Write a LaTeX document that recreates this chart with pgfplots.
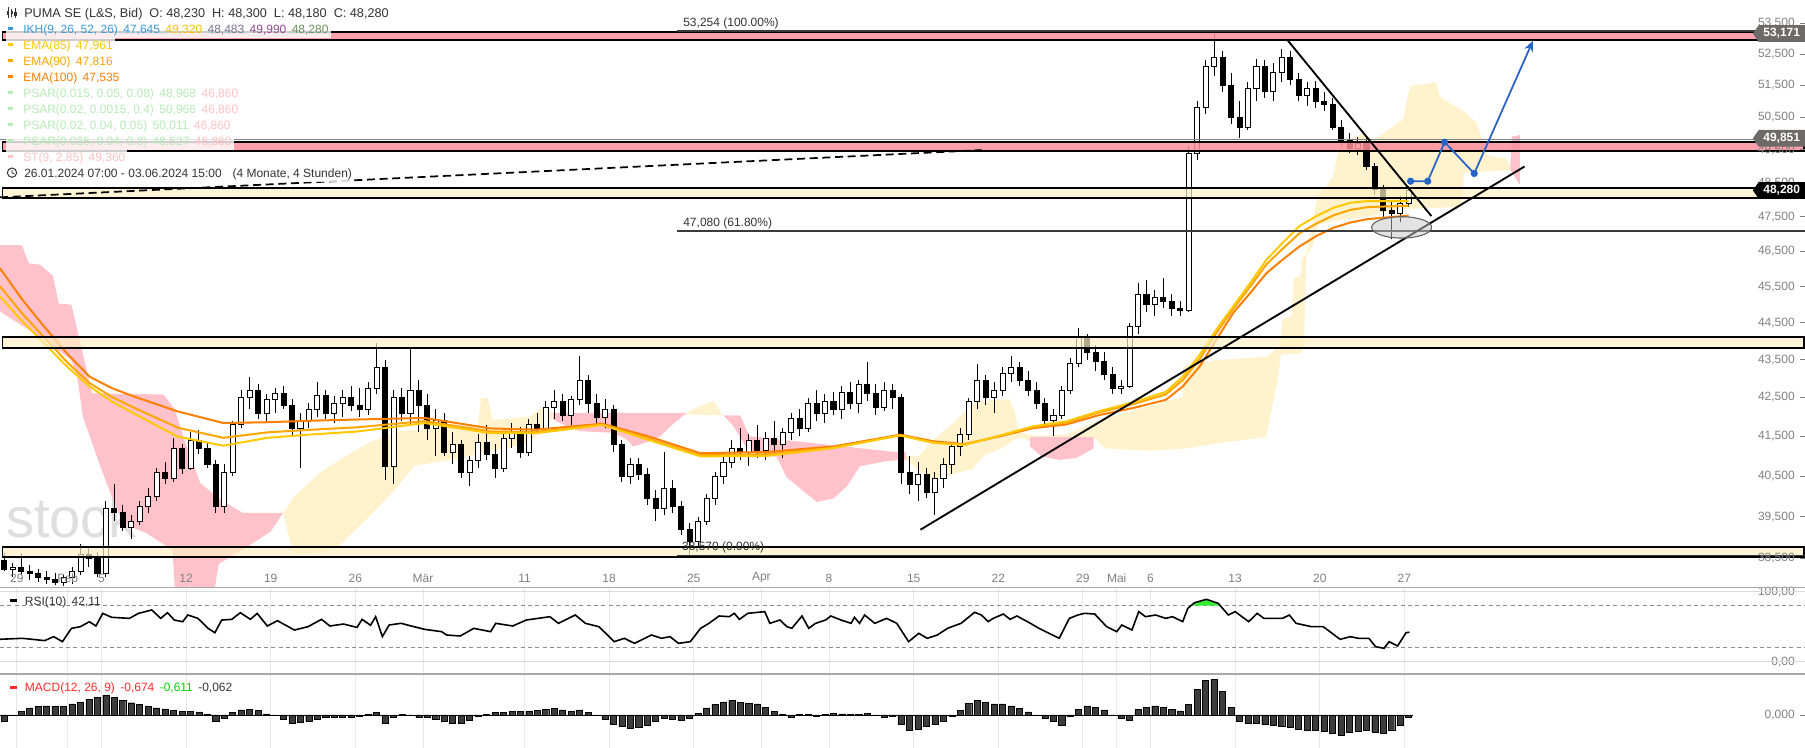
\documentclass[border=0pt]{standalone}
\usepackage{fontspec}
\setmainfont{Liberation Sans}
\usepackage{pgfplots}
\usepackage{pgfplotstable}
\pgfplotsset{compat=1.18}
\usetikzlibrary{shapes.symbols,shapes.geometric,arrows.meta}

\definecolor{tickgray}{HTML}{808080}
\definecolor{gridgray}{HTML}{E8E8E8}
\definecolor{sepgray}{HTML}{A8A8A8}
\definecolor{cloudred}{HTML}{FFC2CB}
\definecolor{cloudyel}{HTML}{FFF2CC}
\definecolor{bandred}{HTML}{FF8F9B}
\definecolor{bandyel}{HTML}{FFF0C4}
\definecolor{emaA}{HTML}{FFC800}
\definecolor{emaB}{HTML}{FFA500}
\definecolor{emaC}{HTML}{FF7F00}
\definecolor{fc}{HTML}{2563C6}
\definecolor{ikh}{HTML}{3A9AD9}
\definecolor{ikhgold}{HTML}{F5C400}
\definecolor{ikhgray}{HTML}{7D7390}
\definecolor{ikhpurple}{HTML}{8E4A8E}
\definecolor{ikhgreen}{HTML}{6A8F5A}
\definecolor{psarg}{HTML}{B6EBB6}
\definecolor{psarr}{HTML}{FFC2C2}
\definecolor{macdbar}{HTML}{3C3C3C}
\definecolor{rsigreen}{HTML}{33EE33}
\definecolor{boxgray}{HTML}{6E6A6A}
\definecolor{txt}{HTML}{333333}
\definecolor{fibgray}{HTML}{3A3A3A}
\definecolor{macdred}{HTML}{FF2A2A}
\definecolor{macdgreen}{HTML}{00D000}

\newcommand\legdash[1]{\textcolor{#1}{\rule[0.24em]{3.75pt}{2.3pt}}\hspace{7.5pt}}
\newcommand\sep{\hspace{0.45em}}

\pgfplotstableread{
x o h l c
0.25 38.45 38.62 38.20 38.25
0.75 38.25 38.40 38.05 38.30
1.25 38.30 38.62 38.10 38.20
1.75 38.20 38.35 38.00 38.15
2.25 38.15 38.25 37.95 38.05
2.75 38.05 38.20 37.90 38.00
3.25 38.00 38.15 37.88 37.95
3.75 37.95 38.10 37.85 38.05
4.25 38.05 38.30 37.90 38.20
4.75 38.20 38.85 38.10 38.60
5.25 38.60 38.80 38.30 38.50
5.75 38.50 38.65 38.05 38.15
6.25 38.15 39.90 38.05 39.70
6.75 39.70 40.30 39.40 39.60
7.25 39.60 39.80 39.15 39.25
7.75 39.25 39.55 38.95 39.40
8.25 39.40 39.90 39.30 39.75
8.75 39.75 40.20 39.60 40.00
9.25 40.00 40.70 39.90 40.60
9.75 40.60 40.85 40.30 40.45
10.25 40.45 41.45 40.35 41.20
10.75 41.20 41.30 40.55 40.70
11.25 40.70 41.60 40.65 41.40
11.75 41.40 41.65 41.05 41.20
12.25 41.20 41.35 40.70 40.80
12.75 40.80 40.90 39.60 39.75
13.25 39.75 40.80 39.60 40.60
13.75 40.60 41.90 40.50 41.80
14.25 41.80 42.70 41.70 42.50
14.75 42.50 43.05 42.20 42.70
15.25 42.70 42.85 41.95 42.10
15.75 42.10 42.60 41.90 42.45
16.25 42.45 42.75 42.10 42.60
16.75 42.60 42.80 42.20 42.30
17.25 42.30 42.45 41.50 41.70
17.75 41.70 42.10 40.70 41.90
18.25 41.90 42.35 41.70 42.20
18.75 42.20 42.90 42.00 42.55
19.25 42.55 42.70 41.95 42.10
19.75 42.10 42.55 41.85 42.35
20.25 42.35 42.70 42.00 42.50
20.75 42.50 42.80 42.15 42.30
21.25 42.30 42.75 42.00 42.20
21.75 42.20 42.90 42.05 42.75
22.25 42.75 43.95 42.60 43.30
22.75 43.30 43.50 40.40 40.75
23.25 40.75 42.70 40.30 42.50
23.75 42.50 42.75 41.90 42.10
24.25 42.10 43.80 41.80 42.70
24.75 42.70 42.95 41.60 42.30
25.25 42.30 42.60 41.40 41.70
25.75 41.70 42.20 41.00 41.90
26.25 41.90 42.10 41.00 41.10
26.75 41.10 41.60 40.80 41.30
27.25 41.30 41.40 40.45 40.60
27.75 40.60 41.00 40.25 40.90
28.25 40.90 41.55 40.70 41.35
28.75 41.35 41.80 40.90 41.05
29.25 41.05 41.30 40.45 40.70
29.75 40.70 41.60 40.60 41.45
30.25 41.45 41.85 41.20 41.60
30.75 41.60 41.75 40.95 41.10
31.25 41.10 41.95 41.00 41.80
31.75 41.80 42.10 41.55 41.70
32.25 41.70 42.40 41.60 42.25
32.75 42.25 42.70 41.95 42.40
33.25 42.40 42.60 41.90 42.05
33.75 42.05 42.55 41.80 42.45
34.25 42.45 43.60 42.30 42.95
34.75 42.95 43.10 42.10 42.35
35.25 42.35 42.60 41.85 42.00
35.75 42.00 42.45 41.70 42.20
36.25 42.20 42.30 41.10 41.30
36.75 41.30 41.40 40.35 40.50
37.25 40.50 40.95 40.30 40.80
37.75 40.80 40.95 40.40 40.55
38.25 40.55 40.70 39.80 39.95
38.75 39.95 40.15 39.40 39.70
39.25 39.70 41.10 39.55 40.20
39.75 40.20 40.40 39.60 39.75
40.25 39.75 39.90 39.05 39.20
40.75 39.20 39.35 38.57 38.90
41.25 38.90 39.50 38.75 39.40
41.75 39.40 40.05 39.30 39.95
42.25 39.95 40.60 39.80 40.50
42.75 40.50 41.00 40.30 40.85
43.25 40.85 41.40 40.70 41.20
43.75 41.20 41.70 40.90 41.10
44.25 41.10 41.55 40.75 41.40
44.75 41.40 41.80 40.95 41.15
45.25 41.15 41.60 40.90 41.45
45.75 41.45 41.90 41.05 41.30
46.25 41.30 41.70 40.95 41.60
46.75 41.60 42.10 41.40 41.95
47.25 41.95 42.20 41.50 41.70
47.75 41.70 42.50 41.60 42.35
48.25 42.35 42.70 41.90 42.10
48.75 42.10 42.60 41.85 42.40
49.25 42.40 42.65 42.05 42.20
49.75 42.20 42.80 41.95 42.65
50.25 42.65 42.90 42.20 42.35
50.75 42.35 42.95 42.10 42.85
51.25 42.85 43.45 42.40 42.60
51.75 42.60 42.85 42.05 42.25
52.25 42.25 42.90 42.15 42.70
52.75 42.70 42.85 42.20 42.50
53.25 42.50 42.60 40.30 40.60
53.75 40.60 41.00 40.05 40.30
54.25 40.30 40.85 39.90 40.55
54.75 40.55 40.70 39.95 40.10
55.25 40.10 40.60 39.55 40.45
55.75 40.45 40.95 40.20 40.80
56.25 40.80 41.35 40.55 41.25
56.75 41.25 41.70 41.00 41.55
57.25 41.55 42.50 41.40 42.40
57.75 42.40 43.40 42.20 42.95
58.25 42.95 43.10 42.30 42.50
58.75 42.50 42.90 42.10 42.70
59.25 42.70 43.30 42.55 43.15
59.75 43.15 43.60 42.90 43.30
60.25 43.30 43.45 42.80 42.95
60.75 42.95 43.20 42.55 42.70
61.25 42.70 42.90 42.20 42.35
61.75 42.35 42.50 41.75 41.90
62.25 41.90 42.20 41.50 42.05
62.75 42.05 42.80 41.95 42.70
63.25 42.70 43.55 42.60 43.40
63.75 43.40 44.35 43.30 44.10
64.25 44.10 44.20 43.50 43.70
64.75 43.70 43.90 43.20 43.45
65.25 43.45 43.70 42.95 43.10
65.75 43.10 43.30 42.60 42.75
66.25 42.75 42.95 42.60 42.80
66.75 42.80 44.50 42.75 44.40
67.25 44.40 45.60 44.20 45.30
67.75 45.30 45.70 44.80 45.00
68.25 45.00 45.40 44.70 45.20
68.75 45.20 45.75 44.90 45.10
69.25 45.10 45.30 44.70 44.90
69.75 44.90 45.10 44.70 44.85
70.25 44.85 49.60 44.80 49.40
70.75 49.40 51.00 49.20 50.80
71.25 50.80 52.30 50.60 52.10
71.75 52.10 53.25 51.80 52.40
72.25 52.40 52.60 51.30 51.50
72.75 51.50 51.90 50.30 50.50
73.25 50.50 51.00 49.86 50.20
73.75 50.20 51.60 50.10 51.40
74.25 51.40 52.35 51.00 52.10
74.75 52.10 52.30 51.10 51.30
75.25 51.30 52.20 51.00 51.90
75.75 51.90 52.65 51.60 52.40
76.25 52.40 52.60 51.50 51.70
76.75 51.70 51.90 51.00 51.20
77.25 51.20 51.60 50.85 51.40
77.75 51.40 51.65 50.80 51.00
78.25 51.00 51.30 50.70 50.90
78.75 50.90 51.10 50.10 50.20
79.25 50.20 50.40 49.60 49.80
79.75 49.80 50.00 49.40 49.55
80.25 49.55 49.90 49.35 49.70
80.75 49.70 49.85 48.90 49.00
81.25 49.00 49.10 48.15 48.30
81.75 48.30 48.45 47.50 47.70
82.25 47.70 48.00 46.85 47.60
82.75 47.60 48.10 47.35 47.90
83.25 47.90 48.40 47.80 48.28
}\candles

\pgfplotstableread{
d a b c
0 45.23 45.51 46.02
1.3 44.55 44.76 45.15
2.6 43.95 44.11 44.40
4 43.30 43.42 43.65
5.3 42.79 42.88 43.05
6.6 42.40 42.52 42.75
7.9 42.09 42.24 42.53
10.5 41.49 41.72 42.14
13.2 41.26 41.46 41.84
15.8 41.46 41.60 41.86
18.5 41.55 41.67 41.90
21.1 41.62 41.73 41.93
25.1 41.84 41.89 41.97
29 41.58 41.62 41.70
31.7 41.58 41.61 41.67
35.6 41.79 41.80 41.82
38.3 41.41 41.44 41.50
41.4 40.99 41.02 41.07
45.3 41.00 41.04 41.10
49.25 41.20 41.21 41.24
53.2 41.52 41.53 41.54
55.2 41.33 41.34 41.37
57 41.28 41.29 41.30
59.1 41.52 41.51 41.50
61.1 41.76 41.74 41.71
63 41.88 41.85 41.80
65 42.15 42.12 42.05
67 42.38 42.33 42.23
68.9 42.65 42.58 42.44
69.9 43.05 42.96 42.79
70.9 43.63 43.52 43.32
71.9 44.32 44.23 44.05
72.9 44.96 44.89 44.78
73.9 45.61 45.51 45.33
74.85 46.26 46.13 45.88
75.8 46.74 46.57 46.26
76.8 47.23 47.02 46.64
77.8 47.52 47.30 46.94
78.8 47.76 47.54 47.18
79.8 47.91 47.70 47.33
80.8 47.96 47.78 47.43
81.7 47.96 47.80 47.47
83.25 47.96 47.82 47.53
}\ema

\pgfplotstableread{
d v
0 32
1.32 33.4
2.64 30.1
3.17 35.8
3.69 28.6
4.22 47.6
4.75 50
5.28 57.1
5.67 51
6.07 69
6.6 63.4
7.65 61.9
8.18 69
8.97 73.9
9.5 61.9
9.9 70
10.3 59.5
10.8 57.1
11.1 66.7
11.7 61.9
12.3 47.6
12.7 41.4
13.1 59.5
13.7 60.5
14.2 70
14.8 60.5
15.2 69
15.8 51
16.4 58.6
17.4 45.2
18.2 50
19.0 60.5
19.5 51
20.3 53.8
21.1 49
21.4 60.5
21.9 52
22.2 64.3
22.6 35.8
23.0 52.4
23.7 54.8
24.3 51
25.1 46.2
26.1 42.9
26.4 38.1
27.2 36.7
28.0 47.6
29.0 42.9
29.3 54.8
30.3 51
31.1 59.5
32.5 64.3
33.0 54.8
34.0 66.7
34.6 54.8
35.4 50
36.3 28.6
36.9 33.4
37.5 26.2
38.5 38.1
39.1 33.4
39.6 35.8
40.1 26.2
40.8 28.6
41.4 47.5
41.9 54.8
42.5 65.3
43.1 64.3
43.4 69.1
43.7 60.5
44.2 69.1
45.2 71.5
45.5 54.8
46.1 59.6
46.5 50.1
46.8 47.7
47.4 65.3
47.8 47.7
48.2 54.8
48.8 59.6
49.1 65.3
49.7 59.6
50.3 54.8
50.5 63.4
50.8 54.8
51.1 66.7
51.7 54.8
52.4 61.9
53.0 54.8
53.7 28.6
54.3 40.5
54.8 33.4
55.4 38.1
56.0 47.7
56.8 54.8
57.6 70.5
58.0 66.7
58.4 57.2
58.7 61.9
59.3 68.1
59.7 60.5
60.1 65.3
60.9 54.8
61.4 47.7
62.6 33.4
63.2 61.9
63.7 66.7
64.1 69.1
64.7 68.1
65.4 50.1
66.0 42.9
66.3 52.4
66.9 45.2
67.3 71.5
67.7 64.3
68.3 66.7
68.9 61.9
69.3 64.3
69.9 57.2
70.2 76.2
70.6 84.3
71.3 89.1
72.0 83.4
72.6 66.7
73.0 71.5
73.8 57.2
74.3 69.1
74.7 61.9
75.8 61.9
76.2 66.7
76.6 54.8
77.5 50.1
78.2 50.1
78.6 42.9
79.2 31.9
79.8 35.7
80.3 33.4
80.9 33.4
81.3 21.4
81.8 19.1
82.1 28.6
82.6 22.4
83.1 41.4
83.3 42.1
}\rsi

\pgfplotstableread{
d v
0.25 -0.20
0.75 -0.02
1.25 0.12
1.75 0.24
2.25 0.29
2.75 0.30
3.25 0.29
3.75 0.29
4.25 0.37
4.75 0.44
5.25 0.52
5.75 0.60
6.25 0.66
6.75 0.60
7.25 0.48
7.75 0.41
8.25 0.35
8.75 0.28
9.25 0.24
9.75 0.20
10.25 0.16
10.75 0.13
11.25 0.12
11.75 0.10
12.25 0.03
12.75 -0.22
13.25 -0.10
13.75 0.08
14.25 0.17
14.75 0.19
15.25 0.15
15.75 0.04
16.25 -0.02
16.75 -0.15
17.25 -0.26
17.75 -0.25
18.25 -0.20
18.75 -0.14
19.25 -0.07
19.75 -0.06
20.25 -0.06
20.75 -0.06
21.25 -0.04
21.75 0.03
22.25 0.08
22.75 -0.26
23.25 -0.08
23.75 0.03
24.25 -0.02
24.75 -0.06
25.25 -0.09
25.75 -0.14
26.25 -0.20
26.75 -0.28
27.25 -0.26
27.75 -0.17
28.25 -0.05
28.75 0.03
29.25 0.08
29.75 0.09
30.25 0.11
30.75 0.12
31.25 0.14
31.75 0.16
32.25 0.19
32.75 0.22
33.25 0.17
33.75 0.11
34.25 0.17
34.75 0.08
35.25 -0.02
35.75 -0.15
36.25 -0.30
36.75 -0.38
37.25 -0.44
37.75 -0.40
38.25 -0.34
38.75 -0.22
39.25 -0.12
39.75 -0.14
40.25 -0.17
40.75 -0.10
41.25 0.06
41.75 0.24
42.25 0.36
42.75 0.44
43.25 0.48
43.75 0.42
44.25 0.38
44.75 0.37
45.25 0.26
45.75 0.12
46.25 0.02
46.75 -0.06
47.25 0.01
47.75 0.02
48.25 -0.03
48.75 0.03
49.25 0.06
49.75 0.04
50.25 0.01
50.75 0.03
51.25 0.06
51.75 -0.02
52.25 -0.06
52.75 -0.03
53.25 -0.30
53.75 -0.50
54.25 -0.46
54.75 -0.39
55.25 -0.30
55.75 -0.20
56.25 -0.05
56.75 0.15
57.25 0.40
57.75 0.50
58.25 0.42
58.75 0.37
59.25 0.37
59.75 0.30
60.25 0.22
60.75 0.10
61.25 -0.02
61.75 -0.12
62.25 -0.22
62.75 -0.33
63.25 -0.05
63.75 0.18
64.25 0.30
64.75 0.25
65.25 0.17
65.75 0.00
66.25 -0.12
66.75 -0.19
67.25 0.19
67.75 0.26
68.25 0.30
68.75 0.25
69.25 0.18
69.75 0.14
70.25 0.35
70.75 0.85
71.25 1.15
71.75 1.20
72.25 0.80
72.75 0.25
73.25 -0.20
73.75 -0.27
74.25 -0.29
74.75 -0.32
75.25 -0.34
75.75 -0.37
76.25 -0.42
76.75 -0.47
77.25 -0.50
77.75 -0.52
78.25 -0.55
78.75 -0.60
79.25 -0.67
79.75 -0.58
80.25 -0.55
80.75 -0.52
81.25 -0.56
81.75 -0.61
82.25 -0.50
82.75 -0.35
83.25 -0.06
}\macd

\pgfplotsset{
  chartbase/.style={
    scale only axis, anchor=south west, width=1353.75pt,
    xmin=0, xmax=106.68, enlargelimits=false,
    axis line style={draw=none},
    xtick={1,4,6,11,16,21,25,31,36,41,45,49,54,59,64,66,68,73,78,83},
    xtick style={draw=none},
    ytick pos=right, yticklabel pos=right,
    yticklabel style={anchor=east, inner sep=0pt, xshift=-7.5pt, text=tickgray, font=\fontsize{9}{10}\selectfont},
    ytick style={draw=tickgray, line width=0.6pt},
    major tick length=3.4pt, tick align=inside,
    xminorticks=false, yminorticks=false,
    /pgf/number format/assume math mode=true,
  }
}

\begin{document}
\begin{tikzpicture}
\useasboundingbox (0pt,0pt) rectangle (1353.75pt,561pt);

% ================= MAIN PANEL =================
\begin{axis}[chartbase, at={(0pt,120.75pt)}, height=440.25pt,
  axis on top,
  ymode=log, ymin=37.83, ymax=54.28,
  xticklabels={29,Feb,5,12,19,26,Mär,11,18,25,Apr,8,15,22,29,Mai,6,13,20,27},
  xticklabel style={anchor=south, inner sep=0pt, yshift=3pt, text=tickgray, font=\fontsize{9}{10}\selectfont},
  ytick={38.5,39.5,40.5,41.5,42.5,43.5,44.5,45.5,46.5,47.5,48.5,49.5,50.5,51.5,52.5,53.5},
  yticklabels={{38,500},{39,500},{40,500},{41,500},{42,500},{43,500},{44,500},{45,500},{46,500},{47,500},{48,500},{49,500},{50,500},{51,500},{52,500},{53,500}},
]
% watermark
\node[anchor=base west, text=black!13, font=\fontsize{42}{42}\selectfont, inner sep=0pt] at (axis cs:0.35,38.99) {stock\raisebox{0.9em}{\fontsize{20}{20}\selectfont 3}};

% Ichimoku clouds
\addplot[fill=cloudred, draw=none, forget plot] coordinates {(0,46.68)(1.29,46.68)(1.70,46.16)(2.38,46.12)(3.13,45.80)(3.47,45.03)(4.22,45.00)(5.44,42.61)(9.66,42.58)(10.34,42.19)(10.95,41.33)(11.84,40.32)(12.99,39.93)(14.35,39.59)(16.73,39.59)(15.99,39.14)(14.63,38.78)(12.93,38.37)(12.65,37.7)(10.34,37.7)(10.20,38.70)(8.64,39.11)(7.28,39.33)(6.53,40.07)(5.92,40.75)(5.44,41.33)(4.90,42.01)(4.56,43.06)(4.22,43.49)(2.59,44.05)(0,44.81)} -- cycle;
\addplot[fill=cloudyel, draw=none, forget plot] coordinates {(16.73,39.59)(17.35,39.98)(18.91,40.58)(20.07,40.90)(21.77,41.33)(23.47,41.62)(25.85,41.71)(28.23,41.77)(28.44,42.49)(28.84,42.49)(29.12,41.92)(31.29,42.01)(31.97,42.22)(32.65,42.13)(32.65,41.95)(31.29,41.33)(27.21,40.95)(24.49,40.75)(23.33,40.15)(21.77,39.48)(20.07,38.81)(18.91,38.65)(17.35,38.59)} -- cycle;
\addplot[fill=cloudred, draw=none, forget plot] coordinates {(32.69,42.10)(40.58,42.10)(39.80,41.82)(39.01,41.50)(38.41,41.37)(37.43,41.24)(37.03,41.42)(36.24,41.59)(34.28,41.63)(33.49,41.76)(32.69,41.93)} -- cycle;
\addplot[fill=cloudyel, draw=none, forget plot] coordinates {(40.58,42.10)(41.36,42.28)(42.18,42.41)(42.72,42.04)(40.58,42.06)} -- cycle;
\addplot[fill=cloudred, draw=none, forget plot] coordinates {(42.75,42.04)(43.74,42.04)(44.29,41.50)(53.15,41.09)(53.54,41.09)(53.54,40.91)(52.38,40.87)(50.82,40.74)(50.05,40.24)(49.25,39.95)(48.27,39.86)(46.48,40.47)(45.90,40.98)(44.33,41.07)(43.33,41.77)} -- cycle;
\addplot[fill=cloudyel, draw=none, forget plot] coordinates {(53.54,40.99)(54.35,41.01)(55.17,41.42)(56.33,41.83)(57.14,42.19)(57.69,42.40)(59.66,42.46)(60.0,42.10)(60.2,41.62)(61.09,41.51)(62.99,41.54)(65.03,41.92)(69.93,42.52)(69.93,43.31)(71.84,43.49)(74.83,43.58)(75.65,43.86)(75.78,44.58)(76.33,44.68)(76.46,45.74)(76.87,45.80)(76.94,46.26)(77.21,46.45)(77.82,47.99)(78.78,48.68)(79.18,49.61)(79.59,49.79)(80.61,50.00)(81.16,49.79)(82.93,50.43)(83.33,51.47)(83.74,51.51)(84.90,51.59)(85.10,51.15)(85.71,50.93)(86.46,50.71)(87.28,50.32)(87.69,49.68)(87.89,49.33)(89.05,49.23)(89.25,48.95)(89.25,48.88)(86.53,48.81)(86.39,47.79)(82.65,47.72)(80.95,47.52)(78.91,47.38)(77.89,47.28)(77.55,46.62)(77.21,46.39)(77.07,43.89)(76.87,43.67)(75.71,43.64)(75.51,42.97)(74.83,41.48)(72.11,41.33)(70.07,41.19)(68.03,41.13)(65.31,41.19)(64.63,41.48)(62.99,41.36)(61.09,41.36)(60.2,41.48)(59.18,41.19)(58.16,41.01)(57.48,40.67)(56.33,40.55)(55.17,40.41)(54.42,40.61)(53.54,40.90)} -- cycle;
\addplot[fill=cloudred, draw=none, forget plot] coordinates {(60.88,41.48)(64.63,41.48)(64.63,41.19)(63.61,40.95)(62.59,40.90)(61.56,40.99)(60.88,41.24)} -- cycle;
\addplot[fill=cloudred, draw=none, forget plot] coordinates {(89.35,49.90)(89.83,49.95)(89.83,48.44)(89.25,48.90)} -- cycle;

% candles
\pgfplotstablegetrowsof{\candles}
\pgfmathtruncatemacro\nlast{\pgfplotsretval-1}
\pgfplotsforeachungrouped \i in {0,...,\nlast}{%
  \pgfplotstablegetelem{\i}{x}\of\candles\let\qx\pgfplotsretval
  \pgfplotstablegetelem{\i}{o}\of\candles\let\qo\pgfplotsretval
  \pgfplotstablegetelem{\i}{h}\of\candles\let\qh\pgfplotsretval
  \pgfplotstablegetelem{\i}{l}\of\candles\let\ql\pgfplotsretval
  \pgfplotstablegetelem{\i}{c}\of\candles\let\qc\pgfplotsretval
  \pgfmathsetmacro\xa{\qx-0.15}%
  \pgfmathsetmacro\xb{\qx+0.15}%
  \pgfmathparse{\qc<\qo ? 0 : 1}%
  \ifdim\pgfmathresult pt>0.5pt \def\qfill{white}\else\def\qfill{black}\fi
  \edef\doit{\noexpand\addplot[black, line width=0.55pt, forget plot] coordinates {(\qx,\ql) (\qx,\qh)};
    \noexpand\addplot[draw=black, line width=0.45pt, fill=\qfill, forget plot] coordinates {(\xa,\qo) (\xb,\qo) (\xb,\qc) (\xa,\qc)} -- cycle;}%
  \doit
}

% EMAs
\addplot[emaC, line width=1.5pt, forget plot] table[x=d,y=c]{\ema};
\addplot[emaB, line width=1.5pt, forget plot] table[x=d,y=b]{\ema};
\addplot[emaA, line width=1.5pt, forget plot] table[x=d,y=a]{\ema};

% horizontal zones
\addplot[fill=bandred, fill opacity=0.85, draw=black, line width=1.3pt, forget plot] coordinates {(0.15,52.95)(106.6,52.95)(106.6,53.22)(0.15,53.22)} -- cycle;
\addplot[fill=bandred, fill opacity=0.85, draw=black, line width=1.3pt, forget plot] coordinates {(0.15,49.47)(106.6,49.47)(106.6,49.73)(0.15,49.73)} -- cycle;
\addplot[gray, line width=0.8pt, forget plot] coordinates {(0,49.82)(106.68,49.82)};
\addplot[fill=bandyel, fill opacity=0.7, draw=black, line width=1.3pt, forget plot] coordinates {(0.15,48.04)(106.6,48.04)(106.6,48.35)(0.15,48.35)} -- cycle;
\addplot[fill=bandyel, fill opacity=0.7, draw=black, line width=1.3pt, forget plot] coordinates {(0.15,43.82)(106.6,43.82)(106.6,44.12)(0.15,44.12)} -- cycle;
\addplot[fill=bandyel, fill opacity=0.7, draw=black, line width=1.3pt, forget plot] coordinates {(0.15,38.53)(106.6,38.53)(106.6,38.77)(0.15,38.77)} -- cycle;

% fibonacci lines
\addplot[fibgray, line width=1.2pt, forget plot] coordinates {(40.0,53.254)(106.68,53.254)};
\addplot[fibgray, line width=1.2pt, forget plot] coordinates {(40.0,47.08)(106.68,47.08)};
\addplot[fibgray, line width=1.0pt, forget plot] coordinates {(40.0,38.57)(106.68,38.57)};

% trend lines
\addplot[black, line width=1.3pt, dash pattern=on 6pt off 3.5pt, forget plot] coordinates {(0,48.07)(58.0,49.49)};
\addplot[black, line width=1.4pt, forget plot] coordinates {(54.4,39.19)(90.1,48.99)};
\addplot[black, line width=1.4pt, forget plot] coordinates {(76.1,52.95)(84.6,47.52)};

% ellipse marker
\node[ellipse, draw=gray!75!black, fill=gray!45, fill opacity=0.5, draw opacity=1, line width=0.8pt, minimum width=45pt, minimum height=16pt, inner sep=0pt] at (axis cs:82.84,47.19) {};

% forecast path
\addplot[fc, line width=1.3pt, mark=*, mark size=2pt, forget plot] coordinates {(83.37,48.55)(84.38,48.55)(85.38,49.73)(87.13,48.78)};
\addplot[fc, line width=1.3pt, -{Stealth[length=8pt,width=7pt]}, forget plot] coordinates {(87.13,48.78)(90.6,52.93)};

% fib labels
\node[anchor=base west, inner sep=0pt, text=txt, font=\fontsize{9}{10}\selectfont] at (axis cs:40.37,53.39) {53,254 (100.00\%)};
\node[anchor=base west, inner sep=0pt, text=txt, font=\fontsize{9}{10}\selectfont] at (axis cs:40.37,47.21) {47,080 (61.80\%)};
\node[anchor=base west, inner sep=0pt, text=txt, font=\fontsize{9}{10}\selectfont] at (axis cs:40.30,38.69) {38,570 (0.00\%)};

% anchors for the price boxes (drawn after the axis, above the tick labels)
\coordinate (pb1) at (axis cs:106.68,53.171);
\coordinate (pb2) at (axis cs:106.68,49.851);
\coordinate (pb3) at (axis cs:106.68,48.28);
\end{axis}

\tikzset{pbox/.style={signal, signal to=west, signal pointer angle=110, text=white, anchor=east, font=\bfseries\fontsize{9}{10}\selectfont, inner xsep=3.5pt, inner ysep=2pt, minimum height=12.5pt}}
\node[pbox, fill=boxgray] at (pb1) {53,171};
\node[pbox, fill=boxgray] at (pb2) {49,851};
\node[pbox, fill=black] at (pb3) {48,280};

% ================= RSI PANEL =================
\begin{axis}[chartbase, at={(0pt,55.5pt)}, height=64.5pt,
  ymin=-17.6, ymax=105.3,
  xticklabels={}, xmajorgrids, major grid style={draw=gridgray, line width=0.7pt},
  ytick={0,100}, yticklabels={{0,00},{100,00}},
]
\addplot[black!15, line width=0.8pt, forget plot] coordinates {(0,100)(106.68,100)};
\addplot[black!15, line width=0.8pt, forget plot] coordinates {(0,0)(106.68,0)};
\addplot[black!45, line width=0.6pt, dash pattern=on 3pt off 2.5pt, forget plot] coordinates {(0,80)(106.68,80)};
\addplot[black!45, line width=0.6pt, dash pattern=on 3pt off 2.5pt, forget plot] coordinates {(0,20)(106.68,20)};
\addplot[fill=rsigreen, draw=none, forget plot] coordinates {(70.39,80)(70.6,84.3)(71.3,89.1)(72.0,83.4)(72.12,80)} -- cycle;
\addplot[black, line width=1.2pt, forget plot] table[x=d,y=v]{\rsi};
\end{axis}

% ================= MACD PANEL =================
\begin{axis}[chartbase, at={(0pt,0pt)}, height=55.5pt,
  ymin=-1.1, ymax=1.367,
  xticklabels={}, xmajorgrids, major grid style={draw=gridgray, line width=0.7pt},
  ytick={0}, yticklabels={0{,}000},
]
\addplot[ybar, bar width=0.36, fill=macdbar, draw=black, line width=0.3pt, forget plot] table[x=d,y=v]{\macd};
\addplot[black, line width=0.5pt, forget plot] coordinates {(0,0)(83.5,0)};
\end{axis}

% separators
\draw[sepgray, line width=1.2pt] (0pt,120.4pt) -- (1353.75pt,120.4pt);
\draw[sepgray, line width=1.2pt] (0pt,55.5pt) -- (1353.75pt,55.5pt);

% ================= LEGEND TEXT =================
\tikzset{leg/.style={anchor=base west, inner xsep=1.5pt, inner ysep=1.8pt, fill=white, fill opacity=0.8, text opacity=1, font=\fontsize{9}{10}\selectfont}}
% candle icon
\draw[txt, line width=0.5pt] (6pt,547.5pt) -- (6pt,555.5pt);
\fill[txt] (5.1pt,549.5pt) rectangle (6.9pt,553pt);
\draw[txt, line width=0.5pt] (8.8pt,548pt) -- (8.8pt,554.5pt);
\fill[txt] (7.9pt,550.5pt) rectangle (9.7pt,552.5pt);
\draw[txt, line width=0.5pt] (11.6pt,547.5pt) -- (11.6pt,555pt);
\fill[txt] (10.7pt,548.8pt) rectangle (12.5pt,551.8pt);
\node[leg, text=txt, font=\fontsize{9.5}{10.5}\selectfont] at (16.5pt,548.1pt) {PUMA SE (L\&S, Bid)\hspace{0.55em}O: 48,230\hspace{0.55em}H: 48,300\hspace{0.55em}L: 48,180\hspace{0.55em}C: 48,280};
\node[leg] at (4.5pt,536.1pt) {\legdash{ikh}\textcolor{ikh}{IKH(9, 26, 52, 26)}\sep\textcolor{ikh}{47,645}\sep\textcolor{ikhgold}{49,320}\sep\textcolor{ikhgray}{48,483}\sep\textcolor{ikhpurple}{49,990}\sep\textcolor{ikhgreen}{48,280}};
\node[leg] at (4.5pt,524.1pt) {\legdash{emaA}\textcolor{emaA}{EMA(85)\sep 47,961}};
\node[leg] at (4.5pt,512.1pt) {\legdash{emaB}\textcolor{emaB}{EMA(90)\sep 47,816}};
\node[leg] at (4.5pt,500.1pt) {\legdash{emaC}\textcolor{emaC}{EMA(100)\sep 47,535}};
\node[leg] at (4.5pt,488.1pt) {\legdash{psarg}\textcolor{psarg}{PSAR(0.015, 0.05, 0.08)\sep 48,968}\sep\textcolor{psarr}{46,860}};
\node[leg] at (4.5pt,476.1pt) {\legdash{psarg}\textcolor{psarg}{PSAR(0.02, 0.0015, 0.4)\sep 50,966}\sep\textcolor{psarr}{46,860}};
\node[leg] at (4.5pt,464.1pt) {\legdash{psarg}\textcolor{psarg}{PSAR(0.02, 0.04, 0.05)\sep 50,011}\sep\textcolor{psarr}{46,860}};
\node[leg] at (4.5pt,452.1pt) {\legdash{psarg}\textcolor{psarg}{PSAR(0.035, 0.04, 0.3)\sep 48,527}\sep\textcolor{psarr}{46,860}};
\node[leg] at (4.5pt,440.1pt) {\legdash{psarr}\textcolor{psarr}{ST(9, 2.85)\sep 49,360}};
\node[leg, text=txt] at (16.5pt,428.1pt) {26.01.2024 07:00 - 03.06.2024 15:00\hspace{0.9em}(4 Monate, 4 Stunden)};
\draw[txt, line width=0.75pt] (9pt,431.5pt) circle (3.5pt);
\draw[txt, line width=0.7pt] (9pt,433.6pt) -- (9pt,431.5pt) -- (10.7pt,430.6pt);

% RSI / MACD labels
\node[anchor=base west, inner sep=0pt, font=\fontsize{9}{10}\selectfont] at (7.5pt,107.1pt) {\textcolor{black}{\rule[0.24em]{5pt}{2.3pt}}\hspace{6pt}\textcolor{txt}{RSI(10)\sep 42,11}};
\node[anchor=base west, inner sep=0pt, font=\fontsize{9}{10}\selectfont] at (7.5pt,42.4pt) {\textcolor{macdred}{\rule[0.24em]{5pt}{2.3pt}}\hspace{6pt}\textcolor{macdred}{MACD(12, 26, 9)\sep -0,674}\sep\textcolor{macdgreen}{-0,611}\sep\textcolor{txt}{-0,062}};
\end{tikzpicture}
\end{document}
